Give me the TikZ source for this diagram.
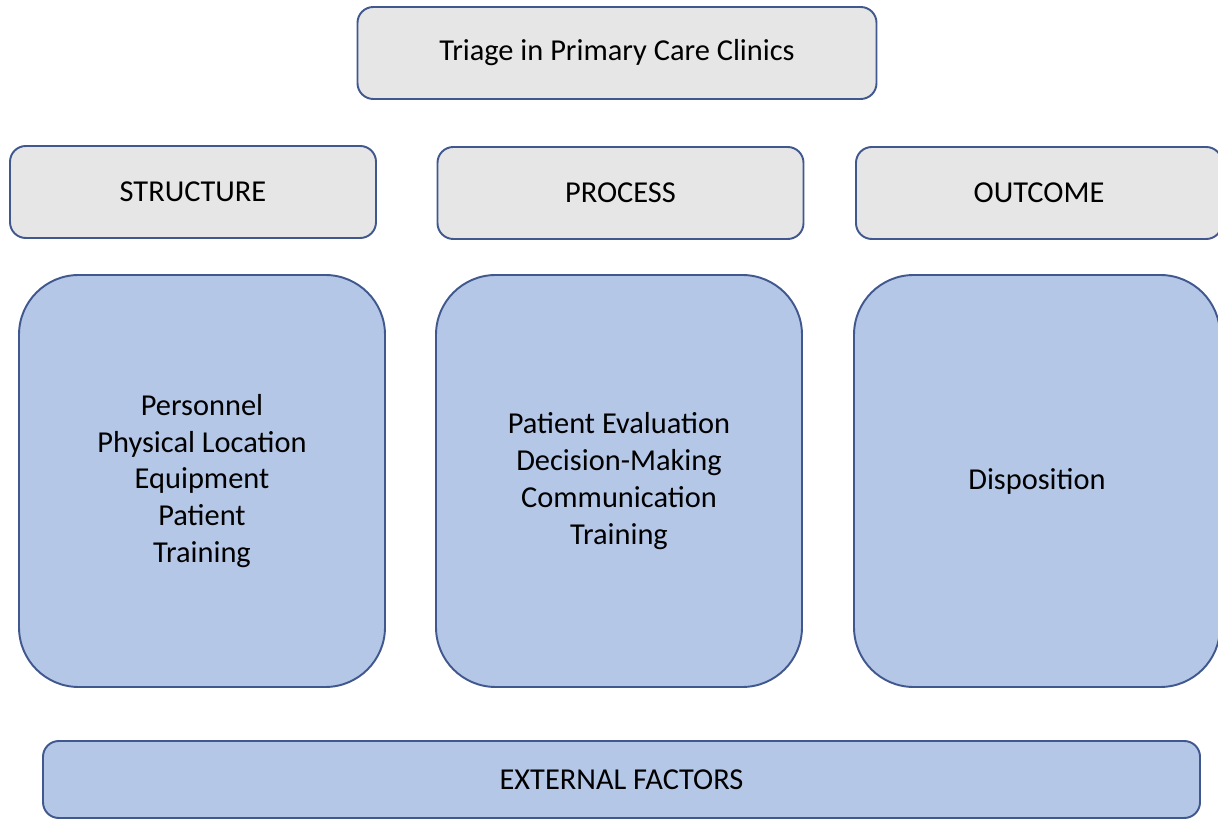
\documentclass[tikz,border=0pt]{standalone}
\usepackage{fontspec}
\setmainfont{Carlito}
\usepackage{tikz}
\definecolor{boxgrey}{HTML}{E7E6E6}
\definecolor{boxblue}{HTML}{B4C7E7}
\definecolor{edgeblue}{HTML}{41588F}

\begin{document}
\begin{tikzpicture}[
		head/.style={draw=edgeblue, line width=1.1pt, fill=boxgrey, rounded corners=9pt,
			minimum width=7.32cm, minimum height=1.84cm, font=\fontsize{17.3}{21}\selectfont},
		body/.style={draw=edgeblue, line width=1.1pt, fill=boxblue, rounded corners=34pt,
			minimum width=7.32cm, minimum height=8.24cm, align=center,
			font=\fontsize{17.3}{21}\selectfont}]
			\clip (0,0) rectangle (24.36,16.42);
			\node[head, minimum width=10.38cm] (title) at (12.34,15.36) {Triage in Primary Care Clinics};
			\node[head] (structure) at (3.86,12.58) {STRUCTURE};
			\node[head] (process) at (12.41,12.56) {PROCESS};
			\node[head] (outcome) at (20.78,12.56) {OUTCOME};
			\node[body] (structitems) at (4.04,6.80) {Personnel\\Physical Location\\Equipment\\Patient\\Training};
			\node[body] (procitems) at (12.38,6.80) {Patient Evaluation\\Decision-Making\\Communication\\Training};
			\node[body] (outitems) at (20.74,6.80) {Disposition};
			\node[body, rounded corners=9pt, minimum width=23.14cm, minimum height=1.54cm] (external)
			at (12.43,0.83) {EXTERNAL FACTORS};
		\end{tikzpicture}
\end{document}
